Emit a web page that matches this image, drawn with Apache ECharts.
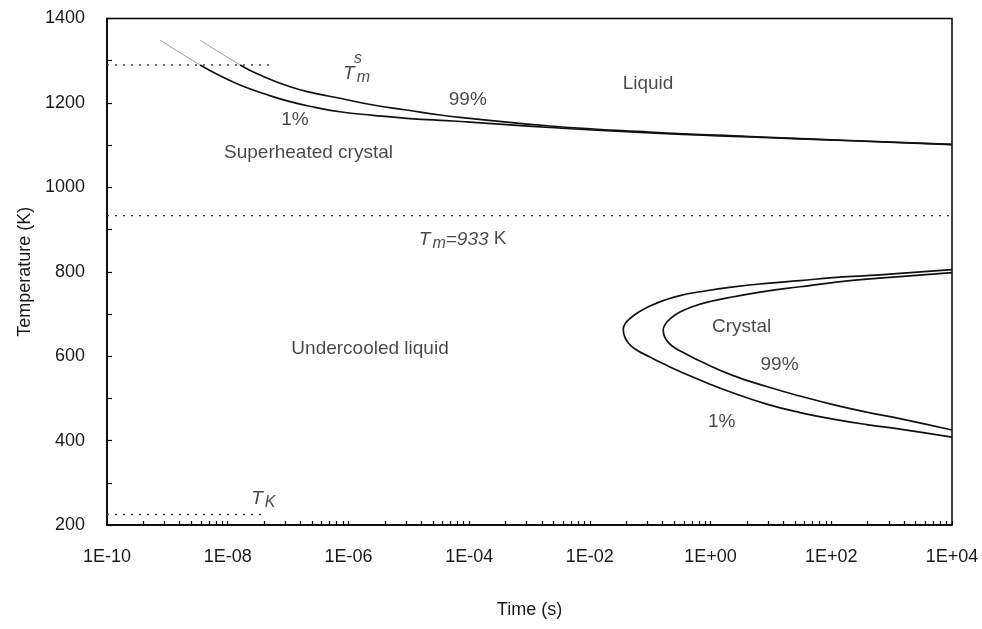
<!DOCTYPE html>
<html>
<head>
<meta charset="utf-8">
<title>Time-temperature-transformation diagram</title>
<script src="https://cdn.jsdelivr.net/npm/echarts@6/dist/echarts.min.js"></script>
<style>
  html, body { margin: 0; padding: 0; background: #fff; }
  #chart { width: 982px; height: 629px; }
</style>
</head>
<body>
<div id="chart"></div>
<script>
// Axis ticks
const timeTicks = [1e-10, 1e-8, 1e-6, 1e-4, 1e-2, 1, 1e2, 1e4];
const timeTickLabels = ['1E-10', '1E-08', '1E-06', '1E-04', '1E-02', '1E+00', '1E+02', '1E+04'];
const minorTickFactors = [4, 9, 16, 25, 36, 49, 64, 81];
const tempLabelTicks = [200, 400, 600, 800, 1000, 1200, 1400];

// Reference temperatures (K)
const tempMeltSuperheat = 1290;
const tempMelt = 933;
const tempKauzmann = 225;

// Melting of the superheated crystal: [time (s), T (K)]
const melt1 = [[7.55e-10, 1349], [1.62e-9, 1319], [3.47e-9, 1290], [7.45e-9, 1264.5], [1.6e-8, 1242.4],
  [4.15e-8, 1221], [1.08e-7, 1203], [2.79e-7, 1189.6], [7.24e-7, 1179], [2.58e-6, 1170.6],
  [9.2e-6, 1163.5], [3.29e-5, 1158.8], [1.03e-4, 1154.7], [2.18e-3, 1141.7], [0.099, 1128.7],
  [4.5, 1119.2], [204, 1110.4], [1e4, 1101.4]];
const melt99 = [[3.47e-9, 1349], [7.45e-9, 1319], [1.6e-8, 1290], [3.43e-8, 1266], [1.08e-7, 1238.4],
  [2.79e-7, 1222.7], [7.24e-7, 1211], [2.58e-6, 1195], [9.2e-6, 1183.2], [3.29e-5, 1171.4],
  [1.03e-4, 1163.5], [2.18e-3, 1145.3], [0.099, 1131], [4.5, 1120.4], [204, 1111], [1e4, 1101.9]];

// Crystallization of the undercooled liquid: [time (s), T (K)]
const cryst1 = [[1e4, 805], [1.37e3, 796], [385, 791], [107, 786], [30.3, 779], [8.5, 772.5],
  [2.38, 764], [0.667, 752.6], [0.311, 743.6], [0.176, 733], [0.099, 718.7], [0.0627, 703.3],
  [0.0462, 689], [0.0387, 677.3], [0.0358, 664], [0.0375, 647.6], [0.0429, 632.2], [0.056, 617],
  [0.099, 598], [0.176, 580], [0.311, 563.5], [0.667, 543.4], [2.38, 512.6], [8.5, 486.5],
  [30.3, 466.4], [107, 451], [385, 438], [1.37e3, 427.3], [1e4, 408.3]];
const cryst99 = [[1e4, 798], [1.37e3, 788.6], [385, 782.7], [107, 774.4], [30.3, 764.5], [8.5, 754.3],
  [2.38, 740.8], [0.977, 729.4], [0.51, 717.5], [0.311, 704.5], [0.221, 690.3], [0.179, 676.1],
  [0.164, 661.8], [0.174, 645.3], [0.205, 631], [0.257, 619.2], [0.353, 608.5], [0.667, 588.4],
  [2.38, 554], [8.5, 528], [30.3, 505.5], [107, 485.3], [385, 467.5], [1.37e3, 452.1], [1e4, 425]];

// Region and curve annotations: [time (s), T (K)]
const annotations = [
  { text: 'Liquid', at: [0.092, 1246] },
  { text: '99%', at: [9.5e-5, 1208] },
  { text: '1%', at: [1.3e-7, 1160] },
  { text: 'Superheated crystal', at: [2.18e-7, 1081] },
  { text: '{t|T}{sub|m}', at: [1.36e-6, 1270] },
  { text: '{sm|s}', at: [1.44e-6, 1304] },
  { text: '{t|T}{sub|m}{t|=933} K', at: [7.8e-5, 877] },
  { text: 'Undercooled liquid', at: [2.28e-6, 618] },
  { text: '{t|T}{sub|K}', at: [3.9e-8, 263] },
  { text: 'Crystal', at: [3.27, 670] },
  { text: '99%', at: [13.9, 579] },
  { text: '1%', at: [1.53, 444] }
];

const FONT = "'Liberation Sans', Arial, Helvetica, sans-serif";
const TEXT_COLOR = '#1a1a1a';

const minorTicks = [];
for (let i = 0; i < timeTicks.length - 1; i++) {
  minorTickFactors.forEach(f => minorTicks.push(timeTicks[i] * f));
}

function timeLabel(v) {
  let best = 0;
  timeTicks.forEach((t, i) => {
    if (Math.abs(Math.log10(t) - Math.log10(v)) < Math.abs(Math.log10(timeTicks[best]) - Math.log10(v))) best = i;
  });
  return timeTickLabels[best];
}

// Curves are grey above the superheating limit and black below it
const above = pts => pts.filter(p => p[1] >= tempMeltSuperheat);
const below = pts => pts.filter(p => p[1] <= tempMeltSuperheat);

const curve = (data, color, width) => ({
  type: 'line', data, smooth: 0.5, showSymbol: false, silent: true,
  lineStyle: { color, width }, z: 3
});
const dotted = (data) => ({
  type: 'line', data, showSymbol: false, silent: true,
  lineStyle: { color: '#444', width: 1.4, type: [2, 6] }, z: 2
});

const chart = echarts.init(document.getElementById('chart'), null, { renderer: 'canvas' });
chart.setOption({
  animation: false,
  backgroundColor: '#fff',
  textStyle: { fontFamily: FONT },
  grid: { left: 107, right: 30, top: 18.5, bottom: 104, show: true, borderColor: '#000', borderWidth: 1.5 },
  xAxis: {
    type: 'log', logBase: 10, min: 1e-10, max: 1e4,
    name: 'Time (s)', nameLocation: 'middle', nameGap: 76,
    nameTextStyle: { fontSize: 18, color: TEXT_COLOR, fontFamily: FONT },
    axisLine: { show: true, lineStyle: { color: '#000', width: 1.5 } },
    axisTick: { show: true, inside: true, length: 4, customValues: timeTicks.concat(minorTicks),
      lineStyle: { color: '#000', width: 1.2 } },
    axisLabel: { customValues: timeTicks, formatter: timeLabel, margin: 23, fontSize: 18,
      color: TEXT_COLOR, fontFamily: FONT },
    splitLine: { show: false }, minorTick: { show: false }, minorSplitLine: { show: false }
  },
  yAxis: {
    type: 'value', min: 200, max: 1400, interval: 100,
    name: 'Temperature (K)', nameLocation: 'middle', nameGap: 72,
    nameTextStyle: { fontSize: 18, color: TEXT_COLOR, fontFamily: FONT },
    axisLine: { show: true, lineStyle: { color: '#000', width: 1.5 } },
    axisTick: { show: true, inside: true, length: 5, lineStyle: { color: '#000', width: 1.2 } },
    axisLabel: { margin: 22, fontSize: 18, color: TEXT_COLOR, fontFamily: FONT,
      formatter: v => tempLabelTicks.indexOf(v) >= 0 ? String(v) : '' },
    splitLine: { show: false }
  },
  series: [
    dotted([[1e-10, tempMeltSuperheat], [5e-8, tempMeltSuperheat]]),
    dotted([[1e-10, tempMelt], [1e4, tempMelt]]),
    dotted([[1e-10, tempKauzmann], [4e-8, tempKauzmann]]),
    curve(above(melt1), '#9a9a9a', 1),
    curve(below(melt1), '#111', 1.7),
    curve(above(melt99), '#9a9a9a', 1),
    curve(below(melt99), '#111', 1.7),
    curve(cryst1, '#111', 1.7),
    curve(cryst99, '#111', 1.7),
    {
      type: 'scatter', symbolSize: 0, silent: true, z: 5,
      data: annotations.map(a => ({ value: a.at, name: a.text })),
      label: {
        show: true, position: 'inside', formatter: p => p.name,
        fontSize: 19, color: TEXT_COLOR, fontFamily: FONT,
        rich: {
          t: { fontSize: 19, fontStyle: 'italic', color: TEXT_COLOR, fontFamily: FONT },
          sub: { fontSize: 16, fontStyle: 'italic', color: TEXT_COLOR, fontFamily: FONT, padding: [9, 0, 0, 2] },
          sm: { fontSize: 16, fontStyle: 'italic', color: TEXT_COLOR, fontFamily: FONT }
        }
      }
    }
  ]
});
</script>
</body>
</html>
